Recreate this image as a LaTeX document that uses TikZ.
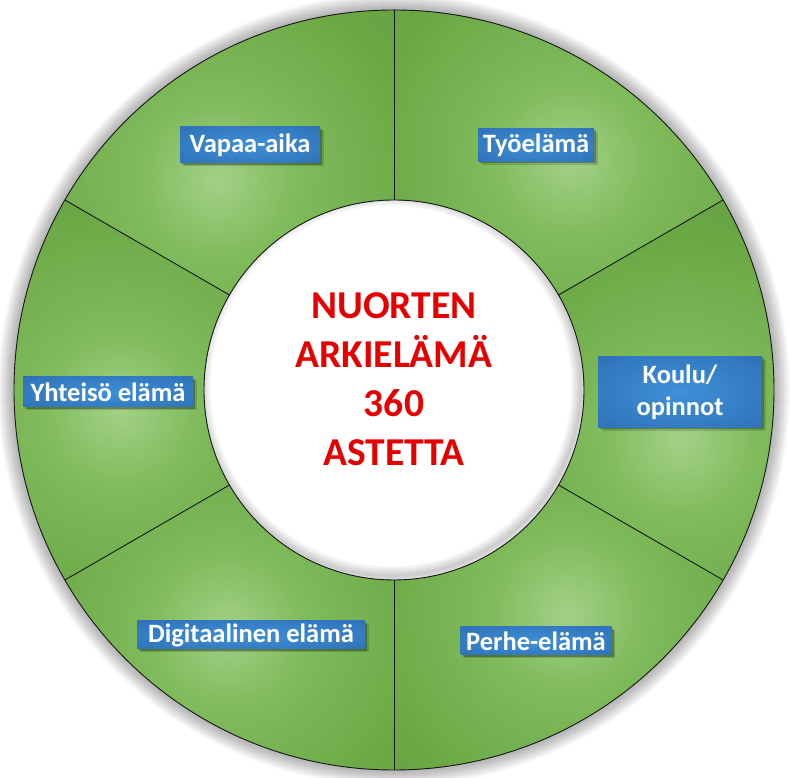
\documentclass[tikz,border=0pt]{standalone}
\usepackage{fontspec}
\setmainfont{Carlito}
\usetikzlibrary{calc,shadows}
\definecolor{gA}{HTML}{A3D187}
\definecolor{gB}{HTML}{80BB5C}
\definecolor{gC}{HTML}{6BA845}
\definecolor{gD}{HTML}{5B923C}
\definecolor{gE}{HTML}{44732D}
\definecolor{bA}{HTML}{3F90D7}
\definecolor{bB}{HTML}{2866AC}
\definecolor{titlered}{HTML}{E60000}
\definecolor{edge}{HTML}{1A1A1A}
\pgfdeclareradialshading{glow}{\pgfpoint{0bp}{0bp}}{color(0bp)=(gA); color(7bp)=(gB); color(18bp)=(gC); color(33bp)=(gD); color(50bp)=(gE)}
\pgfdeclareradialshading{boxglow}{\pgfpoint{0bp}{0bp}}{color(0bp)=(bA); color(50bp)=(bB)}
\tikzset{
  lbl/.style={shade, shading=boxglow, text=white, inner sep=0pt, align=center,
    font=\bfseries\fontsize{26.5}{32}\selectfont,
    drop shadow={shadow xshift=3.5pt, shadow yshift=-3.5pt, opacity=0.15, fill=black},
    drop shadow={shadow xshift=2pt, shadow yshift=-2pt, opacity=0.25, fill=black}},
  divider/.style={draw=edge, line width=0.9pt},
  title/.style={text=titlered, align=center, font=\bfseries\fontsize{39.5}{49}\selectfont}
}
\begin{document}
\begin{tikzpicture}[x=1pt,y=1pt]
\useasboundingbox (0,0) rectangle (790,778);
\fill[white] (0,0) rectangle (790,778);
\coordinate (O) at (394,388);
% outer halo
\foreach \i in {1,...,16} \fill[black,opacity=0.018] (O) circle ({380+\i});
% hole
\fill[white] (O) circle (190);
\begin{scope}
  \clip (O) circle (190);
  \foreach \i in {1,...,10} \draw[black,opacity=0.02,line width=2*\i pt] ($(O)+(-3,4)$) circle (190);
\end{scope}
% sectors
\foreach \a/\sx/\sy in {90/217/598, 30/570/618, -30/680/338, -90/567/165, -150/227/148, 150/120/368}{
  \pgfmathsetmacro{\b}{\a+60}
  \begin{scope}
    \clip ($(O)+(\a:190)$) arc[start angle=\a,end angle=\b,radius=190]
      -- ($(O)+(\b:380)$) arc[start angle=\b,end angle=\a,radius=380] -- cycle;
    \fill[shading=glow] (\sx,\sy) circle (280);
  \end{scope}
}
% outlines
\draw[divider] (O) circle (380);
\draw[divider] (O) circle (190);
\foreach \a in {30,90,150,210,270,330}
  \draw[divider] ($(O)+(\a:190)$) -- ($(O)+(\a:380)$);
% labels
\node[lbl, minimum width=140pt, minimum height=36pt] (vapaa) at (250,633) {Vapaa-aika};
\node[lbl, minimum width=116pt, minimum height=33pt] (tyo) at (536,633) {Työelämä};
\node[lbl, minimum width=164pt, minimum height=71pt] (koulu) at (680,386) {Koulu/\\opinnot};
\node[lbl, minimum width=170pt, minimum height=30pt] (yhteiso) at (108,386) {Yhteisö elämä};
\node[lbl, minimum width=228pt, minimum height=28pt] (digi) at (251,143) {Digitaalinen elämä};
\node[lbl, minimum width=151pt, minimum height=28pt] (perhe) at (536,137) {Perhe-elämä};
% title
\node[title] (center) at (394,399) {NUORTEN\\ARKIELÄMÄ\\360\\ASTETTA};
\end{tikzpicture}
\end{document}
